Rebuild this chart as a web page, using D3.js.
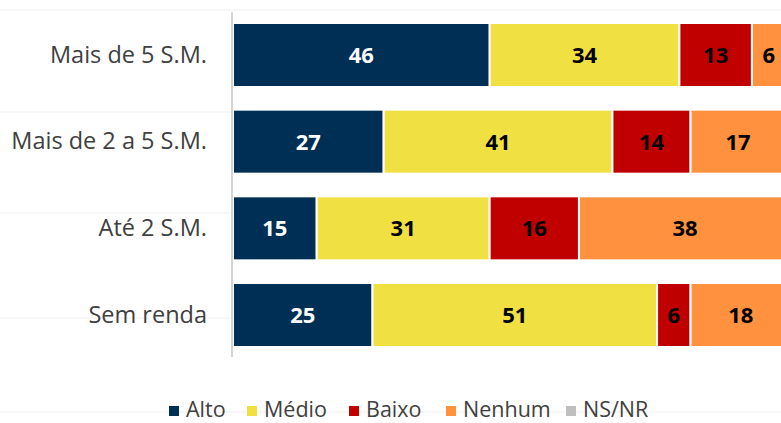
<!DOCTYPE html>
<html><head><meta charset="utf-8">
<script src="https://cdn.jsdelivr.net/npm/d3@7"></script>
<style>body{margin:0;background:#fff;overflow:hidden}svg{display:block}</style>
</head><body>
<svg id="c" width="781" height="423"></svg>
<script>
const categories = ["Mais de 5 S.M.", "Mais de 2 a 5 S.M.", "Até 2 S.M.", "Sem renda"];
const seriesNames = ["Alto", "Médio", "Baixo", "Nenhum", "NS/NR"];
const alto   = [46, 27, 15, 25];
const medio  = [34, 41, 31, 51];
const baixo  = [13, 14, 16, 6];
const nenhum = [6, 17, 38, 18];
const nsnr   = [1, 1, 0, 0];
const colors = ["#002F56", "#F0E042", "#C00000", "#FF913F", "#BFBFBF"];
const labelColors = ["#fff", "#000", "#000", "#000", "#000"];

const svg = d3.select("#c");
const font = "'Open Sans', sans-serif";

// faint background lines
[10, 112, 213, 318, 412].forEach(y => svg.append("line").attr("x1",0).attr("x2",781).attr("y1",y).attr("y2",y)
  .attr("stroke","#f7f7f7").attr("stroke-width",2));

const rows = categories.map((c,i)=>({cat:c, vals:[alto[i],medio[i],baixo[i],nenhum[i],nsnr[i]]}));
const x = d3.scaleLinear().domain([0,100]).range([233, 791]);
const y = d3.scaleBand().domain(categories).range([5.67, 364.33]).paddingInner(0.2615).paddingOuter(0.2);

const stack = d3.stack().keys(d3.range(5)).value((d,k)=>d.vals[k]);
const layers = stack(rows);

const g = svg.append("g");
layers.forEach((layer, k) => {
  const lg = g.append("g");
  lg.selectAll("rect").data(layer).join("rect")
    .attr("x", d=>x(d[0])).attr("width", d=>Math.max(0, x(d[1])-x(d[0])))
    .attr("y", d=>y(d.data.cat)).attr("height", y.bandwidth())
    .attr("fill", colors[k]).attr("stroke","#fff").attr("stroke-width",2);
  lg.selectAll("text").data(layer.filter(d=>d[1]-d[0] >= 2)).join("text")
    .attr("x", d=>(x(d[0])+x(d[1]))/2).attr("y", d=>y(d.data.cat)+y.bandwidth()/2)
    .attr("dy","0.36em").attr("text-anchor","middle")
    .attr("font-family", font).attr("font-weight","bold").attr("font-size",22)
    .attr("fill", labelColors[k]).text(d=>d[1]-d[0]);
});

// y axis
const yAxis = d3.axisLeft(y).tickSize(0).tickPadding(25);
const ag = svg.append("g").attr("transform","translate(232,0)").call(yAxis);
ag.select(".domain").remove();
ag.selectAll("text").attr("font-family", font).attr("font-size",23.5).attr("fill","#404040");
svg.append("line").attr("x1",232).attr("x2",232).attr("y1",12).attr("y2",357)
  .attr("stroke","#d4d4d4").attr("stroke-width",2);

// legend
const legX = [169, 247, 349, 446, 566];
const leg = svg.append("g");
seriesNames.forEach((n,i)=>{
  leg.append("rect").attr("x",legX[i]).attr("y",406).attr("width",10).attr("height",10).attr("fill",colors[i]);
  leg.append("text").attr("x",legX[i]+17).attr("y",417).attr("font-family",font).attr("font-size",21.5)
    .attr("fill","#404040").text(n);
});
</script>
</body></html>
